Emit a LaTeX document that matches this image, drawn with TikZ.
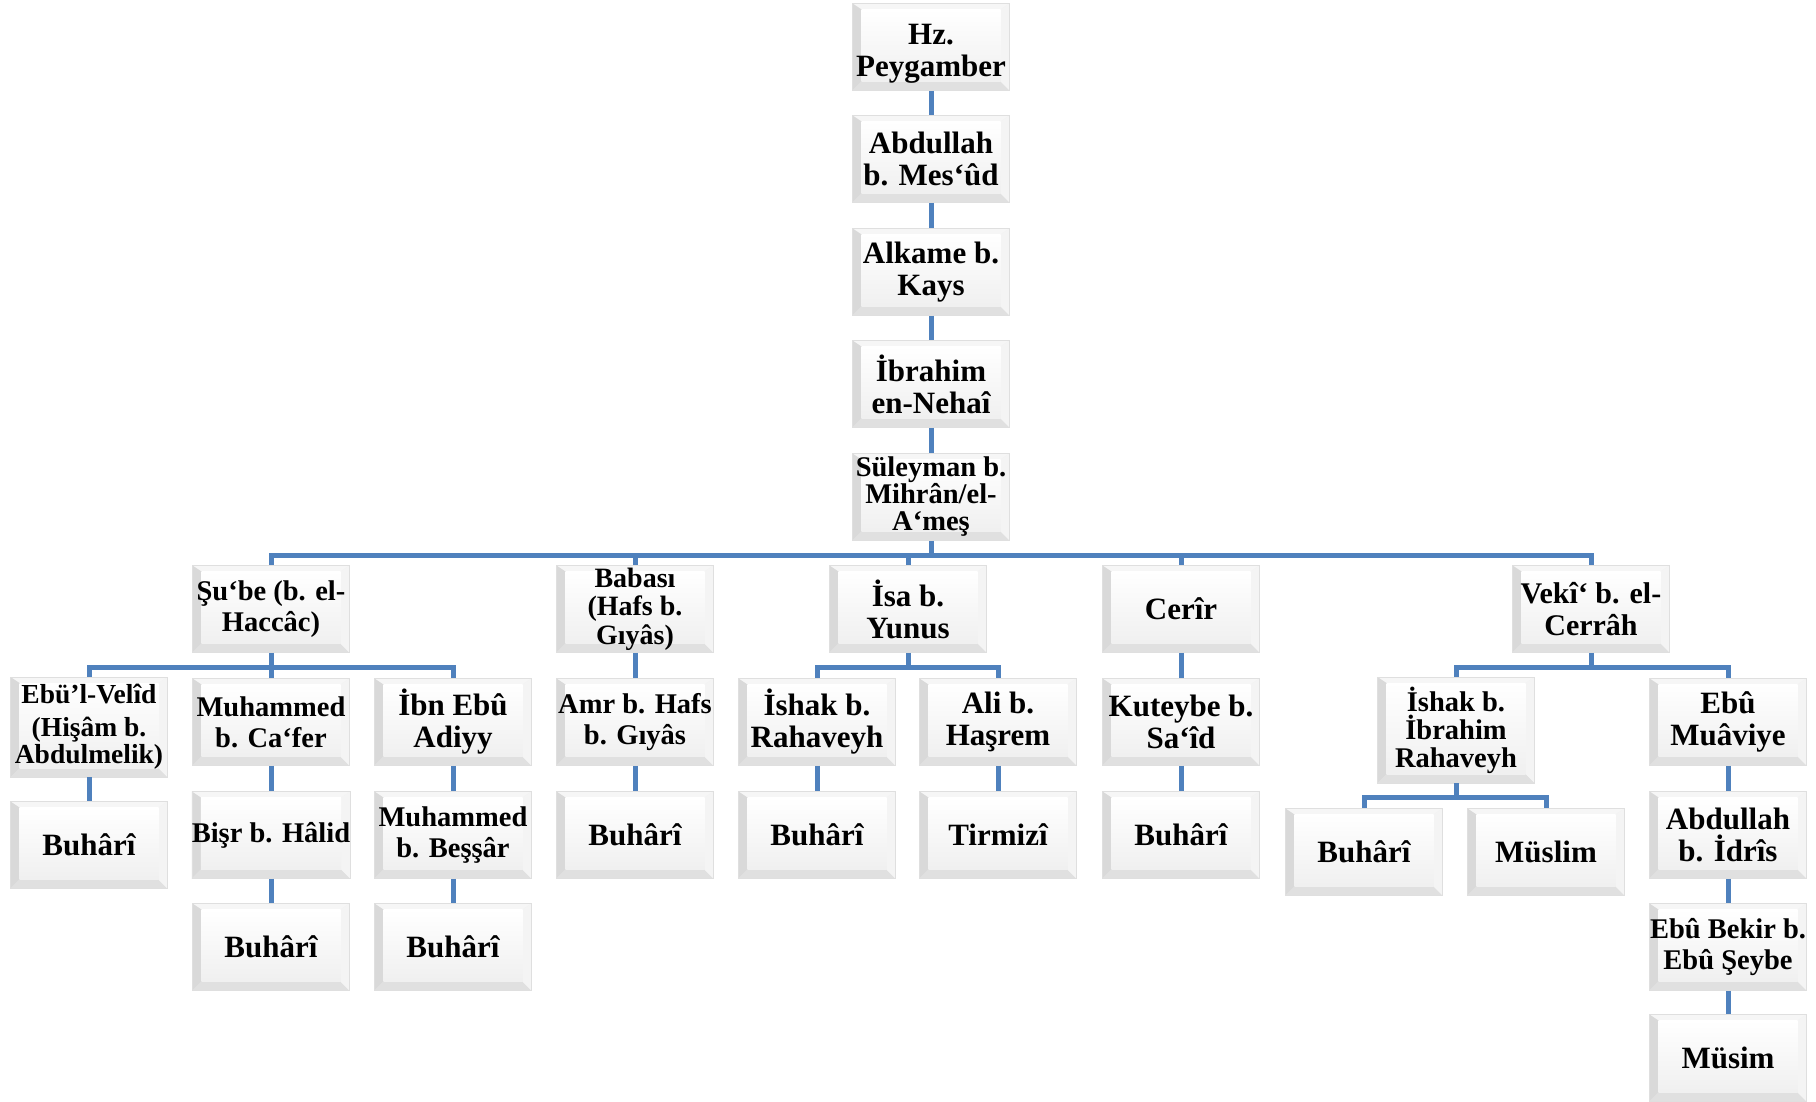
\documentclass[tikz,border=0pt]{standalone}
\usepackage{fontspec}
\setmainfont{Liberation Serif}
\definecolor{linkblue}{HTML}{4F81BD}
\tikzset{
  bx/.style={rectangle, minimum width=157pt, minimum height=87pt, inner sep=0pt,
    align=center, draw=gray!25, line width=0.6pt, fill=gray!12,
    font=\bfseries\fontsize{31}{32}\selectfont,
    path picture={
      \fill[gray!7] (path picture bounding box.north west) -- (path picture bounding box.north east)
        -- ([xshift=-9pt,yshift=-6pt]path picture bounding box.north east)
        -- ([xshift=9pt,yshift=-6pt]path picture bounding box.north west) -- cycle;
      \fill[gray!30] (path picture bounding box.north west)
        -- ([xshift=9pt,yshift=-6pt]path picture bounding box.north west)
        -- ([xshift=9pt,yshift=9pt]path picture bounding box.south west)
        -- (path picture bounding box.south west) -- cycle;
      \fill[gray!24] (path picture bounding box.south west)
        -- ([xshift=9pt,yshift=9pt]path picture bounding box.south west)
        -- ([xshift=-9pt,yshift=9pt]path picture bounding box.south east)
        -- (path picture bounding box.south east) -- cycle;
      \fill[gray!9] (path picture bounding box.north east)
        -- (path picture bounding box.south east)
        -- ([xshift=-9pt,yshift=9pt]path picture bounding box.south east)
        -- ([xshift=-9pt,yshift=-6pt]path picture bounding box.north east) -- cycle;
      \shade[top color=white, bottom color=gray!12]
        ([xshift=9pt,yshift=9pt]path picture bounding box.south west)
        rectangle ([xshift=-9pt,yshift=-6pt]path picture bounding box.north east);
    }},
  small/.style={font=\bfseries\fontsize{28.5}{31}\selectfont},
  link/.style={draw=linkblue, line width=5pt, line join=miter}
}
\begin{document}
\begin{tikzpicture}[x=1pt,y=-1pt]
\useasboundingbox[fill=white] (0,0) rectangle (1816,1101);

% main chain
\node[bx] (hz)  at (931,47)  {\rule{0pt}{34pt}Hz.\\Peygamber};
\node[bx] (abd) at (931,159) {Abdullah\\b. Mes‘ûd};
\node[bx] (alk) at (931,272) {Alkame b.\\Kays};
\node[bx] (ibr) at (931,384) {İbrahim\\en-Nehaî};
\node[bx,font=\bfseries\fontsize{28.5}{27}\selectfont] (sul) at (931,497) {Süleyman b.\\Mihrân/el-\\A‘meş};

% row 2
\node[bx,small] (sube) at (271,609) {Şu‘be (b. el-\\Haccâc)};
\node[bx,font=\bfseries\fontsize{28}{28.5}\selectfont] (bab) at (635,609) {Babası\\(Hafs b.\\Gıyâs)};
\node[bx] (isa) at (908,609) {İsa b.\\Yunus};
\node[bx] (cer) at (1181,609) {Cerîr};
\node[bx,font=\bfseries\fontsize{30}{32}\selectfont] (vek) at (1591,609) {Vekî‘ b. el-\\Cerrâh};

% row 3
\node[bx,minimum height=100pt,font=\bfseries\fontsize{27.5}{27}\selectfont] (ebul) at (89,727) {Ebü’l-Velîd\\[6pt](Hişâm b.\\Abdulmelik)};
\node[bx,small] (mca)  at (271,722) {Muhammed\\b. Ca‘fer};
\node[bx] (iea)  at (453,722) {İbn Ebû\\Adiyy};
\node[bx,small] (amr)  at (635,722) {Amr b. Hafs\\b. Gıyâs};
\node[bx] (ishr) at (817,722) {İshak b.\\Rahaveyh};
\node[bx] (ali)  at (998,722) {Ali b.\\Haşrem};
\node[bx] (kut)  at (1181,722) {Kuteybe b.\\Sa‘îd};
\node[bx,minimum height=106pt,font=\bfseries\fontsize{28.5}{28}\selectfont] (ishi) at (1456,730) {İshak b.\\İbrahim\\Rahaveyh};
\node[bx] (ebm)  at (1728,722) {Ebû\\Muâviye};

% row 4
\node[bx] (buh1) at (89,845)   {Buhârî};
\node[bx,small] (bisr) at (271,835)  {Bişr b. Hâlid};
\node[bx,small] (mbes) at (453,835)  {Muhammed\\b. Beşşâr};
\node[bx] (buh2) at (635,835)  {Buhârî};
\node[bx] (buh3) at (817,835)  {Buhârî};
\node[bx] (tir)  at (998,835)  {Tirmizî};
\node[bx] (buh4) at (1181,835) {Buhârî};
\node[bx] (buh5) at (1364,852) {Buhârî};
\node[bx] (mus)  at (1546,852) {Müslim};
\node[bx] (abdi) at (1728,835) {Abdullah\\b. İdrîs};

% row 5
\node[bx] (buh6) at (271,947)  {Buhârî};
\node[bx] (buh7) at (453,947)  {Buhârî};
\node[bx,small] (ebb)  at (1728,947) {Ebû Bekir b.\\Ebû Şeybe};

% row 6
\node[bx] (msm)  at (1728,1058) {Müsim};

% bus coordinates
\coordinate (b1) at (931,555);
\coordinate (b2) at (271,667);
\coordinate (b3) at (908,667);
\coordinate (b4) at (1591,667);
\coordinate (b5) at (1456,797);

% chain links
\draw[link] (hz) -- (abd);
\draw[link] (abd) -- (alk);
\draw[link] (alk) -- (ibr);
\draw[link] (ibr) -- (sul);

% Süleyman bus
\draw[link] (sul.south) -- (b1);
\draw[link] (b1) -| (sube.north);
\draw[link] (b1) -| (bab.north);
\draw[link] (b1) -| (isa.north);
\draw[link] (b1) -| (cer.north);
\draw[link] (b1) -| (vek.north);

% Şu'be bus
\draw[link] (sube.south) -- (b2);
\draw[link] (b2) -| (ebul.north);
\draw[link] (b2) -- (mca.north);
\draw[link] (b2) -| (iea.north);

% İsa bus
\draw[link] (isa.south) -- (b3);
\draw[link] (b3) -| (ishr.north);
\draw[link] (b3) -| (ali.north);

% Vekî bus
\draw[link] (vek.south) -- (b4);
\draw[link] (b4) -| (ishi.north);
\draw[link] (b4) -| (ebm.north);

% İshak b. İbrahim bus
\draw[link] (ishi.south) -- (b5);
\draw[link] (b5) -| (buh5.north);
\draw[link] (b5) -| (mus.north);

% direct links
\draw[link] (ebul) -- (buh1);
\draw[link] (mca) -- (bisr);
\draw[link] (bisr) -- (buh6);
\draw[link] (iea) -- (mbes);
\draw[link] (mbes) -- (buh7);
\draw[link] (bab) -- (amr);
\draw[link] (amr) -- (buh2);
\draw[link] (ishr) -- (buh3);
\draw[link] (ali) -- (tir);
\draw[link] (cer) -- (kut);
\draw[link] (kut) -- (buh4);
\draw[link] (ebm) -- (abdi);
\draw[link] (abdi) -- (ebb);
\draw[link] (ebb) -- (msm);
\end{tikzpicture}
\end{document}
